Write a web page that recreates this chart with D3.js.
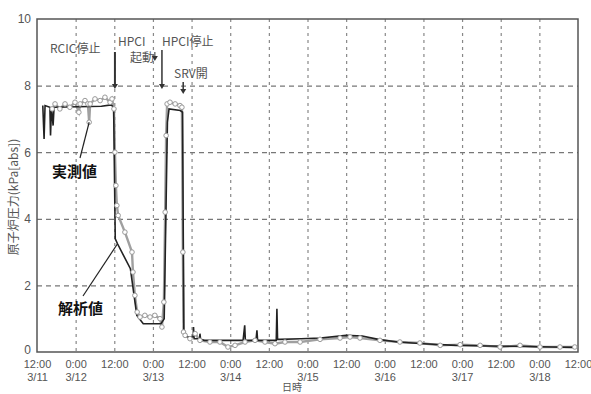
<!DOCTYPE html>
<html>
<head>
<meta charset="utf-8">
<script src="https://cdn.jsdelivr.net/npm/d3@7"></script>
<style>
  body { margin: 0; background: #fff; }
  svg { display: block; font-family: "Noto Sans CJK JP", "Noto Sans", sans-serif; }
</style>
</head>
<body>
<div id="chart"></div>
<script>
// hours since 3/11 12:00
const xTicks = [0, 12, 24, 36, 48, 60, 72, 84, 96, 108, 120, 132, 144, 156, 168]
const yTicks = [0, 2, 4, 6, 8, 10]
const gridY = [2, 4, 6, 8]

// measured (実測値)
const measuredHours = [4.7, 5.6, 7.1, 8.7, 10.2, 11.8, 13.0, 13.4, 14.9, 15.8, 16.2, 16.5, 18.0, 19.6, 21.1, 22.7, 23.3, 23.9,
  24.2, 24.5, 24.8, 25.2, 27.3, 29.5, 29.8, 30.4, 31.1, 32.0, 33.5, 35.1, 36.6, 38.2, 38.8, 39.4, 39.8, 40.1, 40.4,
  41.3, 42.9, 44.4, 45.0, 45.3, 45.5, 46.0, 47.5, 49.1, 50.6, 53.7, 56.8, 59.3, 61.5, 64.6, 67.7, 70.8, 73.9, 77.0,
  81.7, 87.9, 94.1, 97.2, 100.3, 106.5, 112.7, 118.9, 125.2, 131.4, 137.6, 143.8, 150.0, 156.2, 162.4, 167.0]
const measuredKpa = [7.3, 7.45, 7.3, 7.45, 7.35, 7.5, 7.2, 7.45, 7.55, 7.45, 6.9, 7.45, 7.6, 7.55, 7.65, 7.5, 7.6, 7.3,
  6.0, 5.0, 4.4, 4.1, 3.6, 3.0, 2.4, 1.7, 1.2, 1.05, 1.1, 1.05, 1.1, 1.0, 0.75, 1.5, 4.2, 6.5, 7.45,
  7.5, 7.45, 7.4, 7.35, 3.0, 0.6, 0.5, 0.4, 0.55, 0.35, 0.3, 0.3, 0.15, 0.2, 0.3, 0.35, 0.3, 0.25, 0.3,
  0.3, 0.38, 0.42, 0.45, 0.42, 0.35, 0.3, 0.27, 0.2, 0.22, 0.2, 0.15, 0.2, 0.15, 0.15, 0.15]

// analysis (解析値)
const analysisHours = [1.8, 2.2, 2.5, 4.0, 4.2, 4.5, 5.0, 5.3, 20.0, 23.0, 23.8, 24.3, 25.0, 29.0, 30.0, 31.0, 33.0,
  38.5, 39.5, 40.5, 41.0, 44.5, 45.2, 45.6, 47.0, 48.5, 48.6, 48.8, 50.5, 50.6, 50.8, 52.0, 64.0, 64.5, 64.7,
  68.0, 68.3, 68.5, 74.3, 74.5, 74.7, 75.5, 82.0, 88.0, 96.0, 101.0, 106.0, 112.0, 120.0, 130.0, 140.0, 150.0, 160.0, 167.0]
const analysisKpa = [7.4, 6.4, 7.4, 7.35, 6.5, 7.35, 6.8, 7.35, 7.38, 7.42, 7.35, 3.4, 3.25, 2.5, 1.8, 1.1, 0.85,
  0.85, 1.0, 6.9, 7.3, 7.25, 7.2, 0.5, 0.45, 0.45, 0.75, 0.4, 0.4, 0.55, 0.38, 0.35, 0.35, 0.8, 0.35,
  0.35, 0.65, 0.35, 0.35, 1.3, 0.38, 0.38, 0.4, 0.42, 0.5, 0.48, 0.38, 0.3, 0.25, 0.2, 0.18, 0.17, 0.15, 0.14]

const width = 591
const height = 394
const svg = d3.select('#chart').append('svg').attr('width', width).attr('height', height)

const x = d3.scaleLinear().domain([0, 168]).range([37, 578])
const y = d3.scaleLinear().domain([0, 10]).range([352, 19])

// grid
const vGrid = svg.append('g').attr('transform', 'translate(0,19)')
  .call(d3.axisBottom(x).tickValues(xTicks.slice(1, -1)).tickSize(333).tickFormat(''))
vGrid.select('.domain').remove()
vGrid.selectAll('line').attr('stroke', '#888').attr('stroke-width', 1.2).attr('stroke-dasharray', '3,4')

const hGrid = svg.append('g').attr('transform', 'translate(37,0)')
  .call(d3.axisRight(y).tickValues(gridY).tickSize(541).tickFormat(''))
hGrid.select('.domain').remove()
hGrid.selectAll('line').attr('stroke', '#777').attr('stroke-width', 1.2).attr('stroke-dasharray', '5,4')

// frame
svg.append('rect').attr('x', 37).attr('y', 19).attr('width', 541).attr('height', 333)
  .attr('fill', 'none').attr('stroke', '#555').attr('stroke-width', 1.5)

// y axis
const yAxis = svg.append('g').attr('transform', 'translate(37,0)')
  .call(d3.axisLeft(y).tickValues(yTicks).tickSize(0).tickPadding(6))
yAxis.select('.domain').remove()
yAxis.selectAll('text').attr('fill', '#555').style('font-size', '12px').style('font-family', 'Liberation Sans, Arial, sans-serif')
yAxis.selectAll('.tick').filter(d => d === 0).select('text').attr('dy', '0.1em')

// x axis
const xAxis = svg.append('g').attr('transform', 'translate(0,352)')
  .call(d3.axisBottom(x).tickValues(xTicks).tickSize(0).tickFormat(''))
xAxis.select('.domain').remove()
xAxis.selectAll('.tick text').each(function(t) {
  const el = d3.select(this).attr('fill', '#555').style('font-size', '11px')
    .style('font-family', 'Liberation Sans, Arial, sans-serif').attr('y', 0).attr('dy', null)
  const isNoon = t % 24 === 0
  el.append('tspan').attr('x', 0).attr('y', 16).text(isNoon ? '12:00' : '0:00')
  if (!isNoon) el.append('tspan').attr('x', 0).attr('y', 29).text('3/' + (12 + (t - 12) / 24))
  if (t === 0) el.append('tspan').attr('x', 0).attr('y', 29).text('3/11')
})

svg.append('text').attr('x', 292).attr('y', 391).attr('text-anchor', 'middle')
  .attr('fill', '#555').style('font-size', '10px').text('日時')

svg.append('text').attr('transform', 'translate(18,197) rotate(-90)').attr('text-anchor', 'middle')
  .attr('fill', '#555').style('font-size', '12px').text('原子炉圧力(kPa[abs])')

// series
const measured = measuredHours.map((h, i) => ({ h: h, v: measuredKpa[i] }))
const analysis = analysisHours.map((h, i) => ({ h: h, v: analysisKpa[i] }))
const line = d3.line().x(d => x(d.h)).y(d => y(d.v))

svg.append('path').datum(measured).attr('d', line)
  .attr('fill', 'none').attr('stroke', '#a0a0a0').attr('stroke-width', 2.4)

svg.append('path').datum(analysis).attr('d', line)
  .attr('fill', 'none').attr('stroke', '#222').attr('stroke-width', 1.6)

svg.selectAll('.mk').data(measured).enter().append('circle')
  .attr('class', 'mk')
  .attr('cx', d => x(d.h)).attr('cy', d => y(d.v)).attr('r', 2.3)
  .attr('fill', '#fff').attr('stroke', '#999').attr('stroke-width', 1)

// annotations
const note = (tx, ty, s) => svg.append('text').attr('x', tx).attr('y', ty)
  .attr('fill', '#555').style('font-size', '12px').text(s)
note(50, 53, 'RCIC停止')
note(118, 46, 'HPCI')
note(130, 62, '起動')
note(162, 46, 'HPCI停止')
note(174, 78, 'SRV開')

const arrow = (h, y1, y2, w) => {
  svg.append('line').attr('x1', x(h)).attr('x2', x(h)).attr('y1', y1).attr('y2', y2 - 4)
    .attr('stroke', '#333').attr('stroke-width', w)
  svg.append('path')
    .attr('d', `M${x(h) - 3},${y2 - 5}L${x(h) + 3},${y2 - 5}L${x(h)},${y2}Z`)
    .attr('fill', '#333')
}
arrow(24.2, 52, 89, 2)
arrow(36.6, 52, 61, 1)
arrow(38.8, 50, 89, 1.5)
arrow(45.4, 82, 94, 1.5)

svg.append('line').attr('x1', 80).attr('y1', 158).attr('x2', x(16.2)).attr('y2', y(6.9))
  .attr('stroke', '#222').attr('stroke-width', 1.2)
svg.append('line').attr('x1', 83).attr('y1', 296).attr('x2', x(25.0)).attr('y2', y(3.25))
  .attr('stroke', '#222').attr('stroke-width', 1.2)

svg.append('text').attr('x', 52).attr('y', 177).attr('fill', '#111')
  .style('font-size', '15px').style('font-weight', 'bold').text('実測値')
svg.append('text').attr('x', 58).attr('y', 314).attr('fill', '#111')
  .style('font-size', '15px').style('font-weight', 'bold').text('解析値')
</script>
</body>
</html>
